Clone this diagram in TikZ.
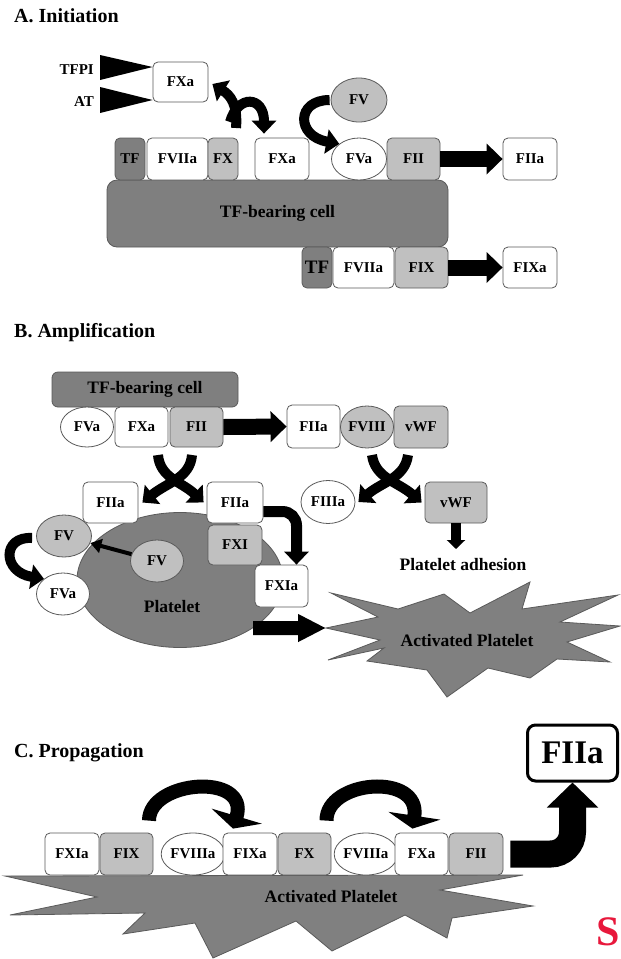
\documentclass[tikz,border=0pt]{standalone}
\usepackage{fontspec}
\setmainfont{Liberation Serif}
\usetikzlibrary{arrows.meta,calc,shapes.geometric}
\definecolor{dg}{HTML}{7F7F7F}
\definecolor{lg}{HTML}{C0C0C0}
\definecolor{bd}{HTML}{5A5A5A}
\definecolor{sg}{HTML}{808080}
\definecolor{redS}{HTML}{E8183C}
\newcommand{\labfont}{\fontsize{15}{15}\selectfont\bfseries}
\newcommand{\midfont}{\fontsize{17.5}{17.5}\selectfont\bfseries}
\newcommand{\ttlfont}{\fontsize{20}{20}\selectfont\bfseries}
\begin{document}
\begin{tikzpicture}[x=1pt,y=-1pt,
  box/.style={draw=bd, line width=0.8pt, rounded corners=5pt, inner sep=0pt, minimum height=42pt, font=\labfont},
  wb/.style={box, fill=white}, gb/.style={box, fill=lg}, db/.style={box, fill=dg},
  ell/.style={ellipse, draw=bd, line width=0.8pt, inner sep=0pt, minimum height=42pt, font=\labfont},
  we/.style={ell, fill=white}, ge/.style={ell, fill=lg},
  bw/.style={minimum width=#1pt}, bh/.style={minimum height=#1pt},
  ttl/.style={anchor=west, inner sep=0pt, font=\ttlfont},
  txt/.style={inner sep=0pt, font=\labfont},
  mtxt/.style={inner sep=0pt, font=\midfont},
  star/.style={fill=sg, draw=bd, line width=0.8pt},
  blockarrow/.style={line width=16pt, -{Triangle[length=16pt,width=30pt]}},
  curvarrow/.style={line width=9pt, -{Triangle[length=13pt,width=24pt]}},
  flatarrow/.style={line width=14pt, -{Triangle[length=13pt,width=52pt]}},
]
\useasboundingbox (0,0) rectangle (621,959);
\fill[white] (0,0) rectangle (621,959);

% ================= A. Initiation =================
\node[ttl] (tA) at (14,16) {A. Initiation};
\node[txt, anchor=east] (tfpi) at (94,70) {TFPI};
\node[txt, anchor=east] (atl) at (94,102) {AT};
\node[wb, bw=55, bh=40] (fxaA) at (180.5,82) {FXa};
\fill ($(tfpi.east)+(6,-15)$) -- ([yshift=15pt]fxaA.west) -- ($(tfpi.east)+(6,10)$) -- cycle;
\fill ($(atl.east)+(6,-15)$) -- ([yshift=-18pt]fxaA.west) -- ($(atl.east)+(6,11)$) -- cycle;

\node[box, fill=dg, rounded corners=10pt, minimum width=341pt, minimum height=67pt, font=\midfont] (cellA) at (277.5,213.5) {TF-bearing cell};

\node[db, bw=30] (tf1) at (130,159) {TF};
\node[wb, bw=61] (fviia1) at (177.5,159) {FVIIa};
\node[gb, bw=30] (fx1) at (223,159) {FX};
\node[wb, bw=54] (fxa2) at (282,159) {FXa};
\node[we, bw=55] (fva1) at (359,159) {FVa};
\node[gb, bw=53] (fii1) at (413.5,159) {FII};
\node[wb, bw=54] (fiia1) at (530,159) {FIIa};
\node[ge, bw=56, bh=44] (fv1) at (359,100) {FV};

\node[db, bw=30, bh=41, font=\fontsize{19}{19}\selectfont\bfseries] (tf2) at (317,267.5) {TF};
\node[wb, bw=61, bh=41] (fviia2) at (363.5,267.5) {FVIIa};
\node[gb, bw=53, bh=41] (fix1) at (421.5,267.5) {FIX};
\node[wb, bw=54, bh=41] (fixa1) at (530,267.5) {FIXa};

\draw[blockarrow] (fii1.east) -- (fiia1.west);
\draw[blockarrow] (fix1.east) -- (fixa1.west);

\draw[curvarrow, line width=10pt] (236,128) .. controls (238,104) and (230,95) .. ([xshift=4pt,yshift=-2pt]fxaA.east);
\draw[curvarrow, line width=10pt] (230,122) .. controls (238,94) and (264,96) .. ([xshift=-18pt,yshift=4pt]fxa2.north);
\draw[curvarrow, line width=10pt] ([xshift=-1pt]fv1.west) .. controls (296,100) and (296,136) .. (fva1.north west);

% ================= B. Amplification =================
\node[ttl] (tB) at (14,333) {B. Amplification};
\node[box, fill=dg, rounded corners=6pt, minimum width=186pt, minimum height=35pt, font=\midfont] (cellB) at (145,389.5) {TF-bearing cell};
\node[we, bw=53, bh=40] (fvaB) at (87,427) {FVa};
\node[wb, bw=53, bh=40] (fxaB) at (141.5,427) {FXa};
\node[gb, bw=53, bh=40] (fiiB) at (196.5,427) {FII};
\node[wb, bw=53, bh=43] (fiiaB) at (313.5,426.5) {FIIa};
\node[ge, bw=53] (fviii) at (367,427) {FVIII};
\node[gb, bw=54] (vwf1) at (421,427) {vWF};
\draw[blockarrow] (fiiB.east) -- (fiiaB.west);

\node[we, bw=54, bh=43] (fiiia) at (328,502) {FIIIa};
\node[gb, bw=62, bh=41] (vwf2) at (456,502.5) {vWF};
\node[mtxt] (adh) at (463,565) {Platelet adhesion};
\coordinate (adhtop) at (456,549);
\draw[line width=10pt, -{Triangle[length=9pt,width=18pt]}] (vwf2.south) -- (adhtop);

% activated platelet (B)
\coordinate (starL) at (326,628);
\draw[star] (starL) -- (378,617) -- (331,593) -- (398,609) -- (444,594) -- (470,613) -- (530,582) -- (522,609)
  -- (618,595) -- (560,622) -- (620,626) -- (567,642) -- (610,662) -- (557,659) -- (530,678) -- (488,668)
  -- (447,697) -- (427,670) -- (367,661) -- (384,648) -- (328,660) -- (380,640) -- cycle;
\node[mtxt] (actB) at (467,641) {Activated Platelet};

% platelet
\node[ellipse, fill=dg, draw=bd, line width=0.8pt, minimum width=206pt, minimum height=135pt, inner sep=0pt] (plt) at (180,580) {};
\node[mtxt] (pltxt) at (172,607) {Platelet};
\node[wb, bw=55, bh=41] (fiiaL) at (110.5,502.5) {FIIa};
\node[wb, bw=56, bh=41] (fiiaR) at (235,502.5) {FIIa};
\node[gb, bw=54, bh=40] (fxi) at (235,545) {FXI};
\node[ge, bw=55] (fvL) at (64,536) {FV};
\node[we, bw=53] (fvaL) at (63,594) {FVa};
\node[ge, bw=53] (fvin) at (157,561) {FV};
\node[wb, bw=53] (fxia) at (281.5,586) {FXIa};

% crossing arrows
\draw[curvarrow, line width=10pt] (158,455) .. controls (160,478) and (182,482) .. ([xshift=-3pt]fiiaR.west);
\draw[curvarrow, line width=10pt] (192,455) .. controls (190,478) and (168,482) .. ([xshift=4pt]fiiaL.east);
\draw[curvarrow, line width=10pt] (372,455) .. controls (375,478) and (398,482) .. ([xshift=-3pt]vwf2.west);
\draw[curvarrow, line width=10pt] (408,455) .. controls (405,478) and (382,482) .. ([xshift=3pt]fiiia.east);

\draw[line width=4pt, -{Triangle[length=11pt,width=14pt]}] (fvin) -- (fvL);
\draw[curvarrow, line width=10pt] ([xshift=-4pt,yshift=-2pt]fvL.west) .. controls (2,536) and (2,572) .. (fvaL.north west);
\draw[curvarrow, line width=11pt, rounded corners=14pt] ([yshift=-9pt]fiiaR.east) -| ([xshift=15pt]fxia.north);
\draw[line width=14pt, -{Triangle[length=28pt,width=26pt]}] (plt.south east) -- (starL);

% ================= C. Propagation =================
\node[ttl] (tC) at (14,753) {C. Propagation};
\draw[star] (5,876) -- (523,875) -- (440,890) -- (533,906) -- (452,918) -- (447,938) -- (405,915) -- (332,951)
  -- (296,921) -- (213,958) -- (195,923) -- (123,934) -- (145,913) -- (10,915) -- (97,897) -- cycle;
\node[mtxt] (actC) at (331,897) {Activated Platelet};

\node[wb, bw=54] (fxiaC) at (72,854) {FXIa};
\node[gb, bw=53] (fixC) at (126.5,854) {FIX};
\node[we, bw=50] (fviiia1) at (193,854) {FVIIIa};
\node[wb, bw=54] (fixaC) at (250,854) {FIXa};
\node[gb, bw=53] (fxC) at (304.5,854) {FX};
\node[we, bw=52] (fviiia2) at (366,854) {FVIIIa};
\node[wb, bw=53] (fxaC) at (421.5,854) {FXa};
\node[gb, bw=54] (fiiC) at (476,854) {FII};
\node[draw=black, line width=3pt, rounded corners=8pt, fill=white, minimum width=90pt, minimum height=56pt, inner sep=0pt,
  font=\fontsize{33}{33}\selectfont\bfseries] (fiiaBig) at (572.5,753) {FIIa};

\draw[flatarrow] ([xshift=-101pt,yshift=12pt]fixaC.north) .. controls (149,780) and (250,772) .. ([xshift=-17pt,yshift=4pt]fixaC.north);
\draw[flatarrow] ([xshift=-95pt,yshift=12pt]fxaC.north) .. controls (326,780) and (421,772) .. ([xshift=-9pt,yshift=4pt]fxaC.north);
\draw[line width=27pt, rounded corners=22pt, -{Triangle[length=25pt,width=50pt]}] ([xshift=7pt]fiiC.east) -| (fiiaBig.south);

\node[anchor=east, inner sep=0pt, text=redS, font=\fontsize{42}{42}\selectfont\bfseries] (sS) at (620,932) {S};
\end{tikzpicture}
\end{document}
